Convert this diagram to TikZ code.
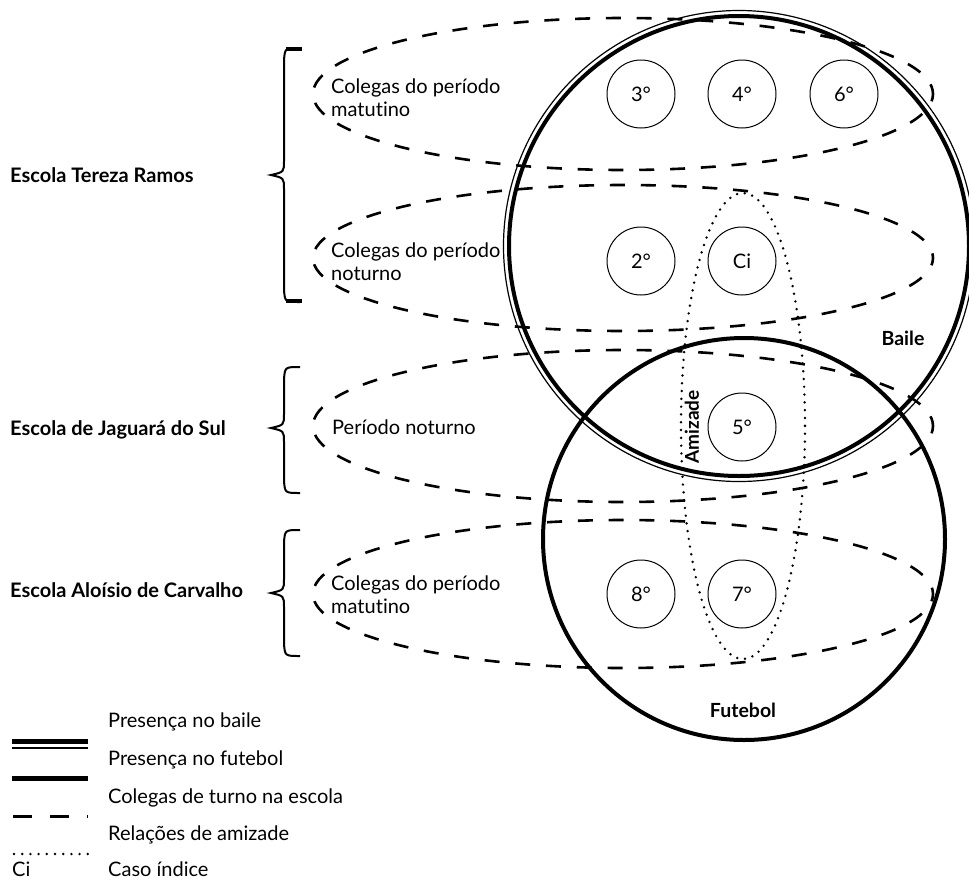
\documentclass[tikz,border=0pt]{standalone}
\usepackage{fontspec}
\setmainfont{Lato}[Ligatures={NoCommon}]
\begin{document}
\begin{tikzpicture}[x=1pt,y=-1pt,
  thickc/.style={line width=4pt},
  thinc/.style={line width=1.2pt},
  dashell/.style={line width=2.6pt, dash pattern=on 15pt off 15.8pt, dash phase=7.5pt},
  dotell/.style={line width=2.7pt, line cap=round, dash pattern=on 0pt off 7.8pt},
  person/.style={circle, draw, line width=1pt, minimum size=68pt, inner sep=0pt, font=\fontsize{20}{22}\selectfont},
  lbl/.style={font=\fontsize{20}{23}\selectfont, inner sep=0pt, anchor=base west},
  blbl/.style={font=\bfseries\fontsize{19.5}{22}\selectfont, inner sep=0pt},
  bracestyle/.style={line width=2pt},
  legline/.style={line width=5pt},
]
\useasboundingbox (0,0) rectangle (969,881);

% dashed ellipses (school shifts)
\draw[dashell] (623,94) ellipse (310 and 76);
\draw[dashell] (623,258) ellipse (310 and 73);
\draw[dashell] (623,426) ellipse (310 and 76);
\draw[dashell] (623,594) ellipse (310 and 74);

% friendship
\draw[dotell] (743,426) ellipse (62 and 233);

% baile (double) and futebol
\draw[thickc] (739,246) circle (230);
\draw[thinc] (739,246) circle (235.5);
\draw[thickc] (744,539) circle (201);

% people
\node[person] (p3) at (641,94) {3°};
\node[person] (p4) at (742,94) {4°};
\node[person] (p6) at (844,94) {6°};
\node[person] (p2) at (641,261) {2°};
\node[person] (pci) at (742,261) {Ci};
\node[person] (p5) at (742,427) {5°};
\node[person] (p8) at (641,594) {8°};
\node[person] (p7) at (742,594) {7°};

% group labels
\node[blbl] (baile) at (903,338) {Baile};
\node[blbl] (futebol) at (743,710) {Futebol};
\node[blbl, font=\bfseries\fontsize{19}{22}\selectfont, rotate=90] (amizade) at (692,427) {Amizade};

% shift labels
\node[lbl] (m1a) at (331,93) {Colegas do período};
\node[lbl] (m1b) at (331,116) {matutino};
\node[lbl] (n1a) at (331,257) {Colegas do período};
\node[lbl] (n1b) at (331,280) {noturno};
\node[lbl] (j1) at (332,434) {Período noturno};
\node[lbl] (a1a) at (331,590) {Colegas do período};
\node[lbl] (a1b) at (331,613) {matutino};

% schools
\node[blbl, font=\bfseries\fontsize{20}{22}\selectfont, anchor=base west] (tr) at (10,182) {Escola Tereza Ramos};
\node[blbl, font=\bfseries\fontsize{20}{22}\selectfont, anchor=base west] (jg) at (10,435) {Escola de Jaguará do Sul};
\node[blbl, font=\bfseries\fontsize{20}{22}\selectfont, anchor=base west] (al) at (10,597) {Escola Aloísio de Carvalho};

% braces
\newcommand\mybrace[3]{%
  \draw[bracestyle] (300,#1) .. controls (285,#1) .. (284,#1+12) -- (284,#3-14)
    .. controls (284,#3-3) .. (271,#3) .. controls (284,#3+3) .. (284,#3+14)
    -- (284,#2-12) .. controls (285,#2) .. (300,#2);}
\mybrace{48}{302}{175}
\draw[line width=4.5pt] (286,49) -- (302,49);
\draw[line width=4.5pt] (286,301) -- (302,301);
\mybrace{367}{493}{428}
\mybrace{530}{656}{593}

% legend
\draw[legline] (12,741) -- (88,741);
\draw[line width=1.3pt] (12,748) -- (88,748);
\draw[legline] (12,778) -- (88,778);
\draw[line width=3pt, dash pattern=on 19pt off 18pt] (13,816) -- (88,816);
\draw[line width=2.7pt, line cap=round, dash pattern=on 0pt off 8.2pt] (14,854) -- (88,854);
\node[lbl] (l1) at (108,727) {Presença no baile};
\node[lbl] (l2) at (108,765) {Presença no futebol};
\node[lbl] (l3) at (108,803) {Colegas de turno na escola};
\node[lbl] (l4) at (108,840) {Relações de amizade};
\node[lbl] (l5) at (108,876) {Caso índice};
\node[lbl] (l5c) at (12,876) {Ci};
\end{tikzpicture}
\end{document}
